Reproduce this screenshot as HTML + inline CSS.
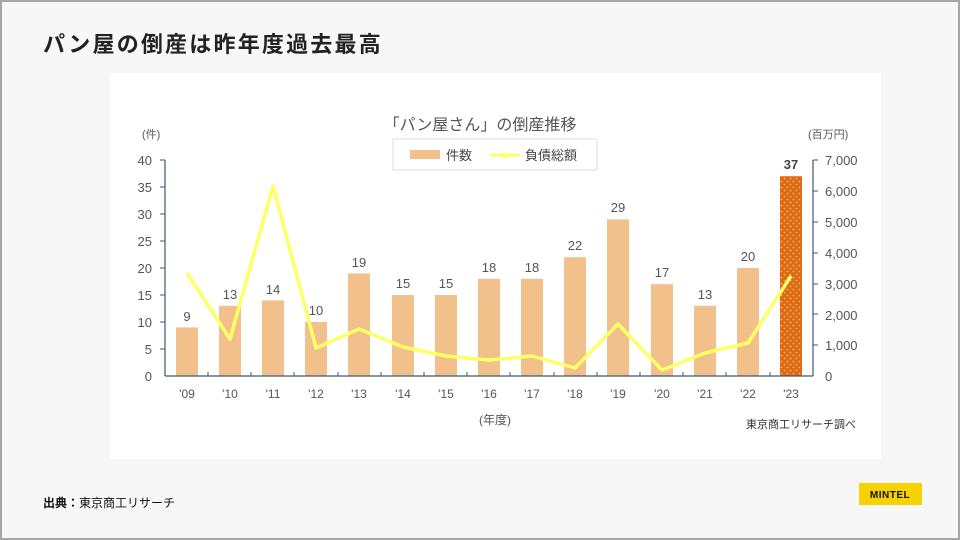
<!DOCTYPE html><html><head><meta charset="utf-8"><style>
body{margin:0;width:960px;height:540px;overflow:hidden;background:#f7f7f7;font-family:"Liberation Sans","Noto Sans CJK JP",sans-serif}
.frame{position:absolute;left:0;top:0;width:956px;height:536px;border:2px solid #a6a6a6;}
</style></head><body><div class="frame"></div>
<svg width="960" height="540" style="position:absolute;left:0;top:0" font-family="Liberation Sans, Noto Sans CJK JP, sans-serif">
<defs><pattern id="dots" width="6" height="6" patternUnits="userSpaceOnUse"><rect width="6" height="6" fill="#e06a10"/><circle cx="1.5" cy="1.5" r="0.8" fill="#f8c89a"/><circle cx="4.5" cy="4.5" r="0.8" fill="#f8c89a"/></pattern></defs>
<text x="43" y="52" font-size="22" font-weight="bold" fill="#222" letter-spacing="2.2">パン屋の倒産は昨年度過去最高</text>
<rect x="110" y="73" width="771" height="386" fill="#fff"/>
<text x="480" y="130" font-size="16" fill="#555" text-anchor="middle">「パン屋さん」の倒産推移</text>
<rect x="393" y="139" width="204" height="31" fill="#fff" stroke="#ddd"/>
<rect x="410" y="150" width="30" height="9" fill="#f2c08a"/>
<text x="446" y="160" font-size="13" fill="#444">件数</text>
<line x1="490" y1="155" x2="520" y2="155" stroke="#ffff66" stroke-width="3"/>
<path d="M502 158l3-5 3 5z" fill="#ffff66"/>
<text x="525" y="160" font-size="13" fill="#444">負債総額</text>
<text x="142" y="138" font-size="11" fill="#555">(件)</text>
<text x="808" y="138" font-size="11" fill="#555">(百万円)</text>
<g font-size="13" fill="#555" text-anchor="end">
<text x="152" y="165">40</text><text x="152" y="192">35</text><text x="152" y="219">30</text><text x="152" y="246">25</text><text x="152" y="273">20</text><text x="152" y="300">15</text><text x="152" y="327">10</text><text x="152" y="354">5</text><text x="152" y="381">0</text>
</g>
<g font-size="13" fill="#555">
<text x="825" y="165">7,000</text><text x="825" y="196">6,000</text><text x="825" y="227">5,000</text><text x="825" y="258">4,000</text><text x="825" y="289">3,000</text><text x="825" y="320">2,000</text><text x="825" y="350">1,000</text><text x="825" y="381">0</text>
</g>
<g fill="#f2c08a">
<rect x="176" y="327.4" width="22" height="48.6"/>
<rect x="219" y="305.8" width="22" height="70.2"/>
<rect x="262" y="300.4" width="22" height="75.6"/>
<rect x="305" y="322" width="22" height="54"/>
<rect x="348" y="273.4" width="22" height="102.6"/>
<rect x="392" y="295" width="22" height="81"/>
<rect x="435" y="295" width="22" height="81"/>
<rect x="478" y="278.8" width="22" height="97.2"/>
<rect x="521" y="278.8" width="22" height="97.2"/>
<rect x="564" y="257.2" width="22" height="118.8"/>
<rect x="607" y="219.4" width="22" height="156.6"/>
<rect x="651" y="284.2" width="22" height="91.8"/>
<rect x="694" y="305.8" width="22" height="70.2"/>
<rect x="737" y="268" width="22" height="108"/>
</g>
<rect x="780" y="176.2" width="22" height="199.8" fill="url(#dots)"/>
<g stroke="#3d5a70" stroke-width="1.2" fill="none">
<line x1="165" y1="160" x2="165" y2="376"/><line x1="165" y1="376" x2="813" y2="376"/><line x1="813" y1="160" x2="813" y2="376"/>
</g>
<g stroke="#3d5a70" stroke-width="1">
<path d="M160 160h5M160 187h5M160 214h5M160 241h5M160 268h5M160 295h5M160 322h5M160 349h5"/>
<path d="M813 160h5M813 191h5M813 222h5M813 253h5M813 284h5M813 314h5M813 345h5"/>
<path d="M208 376v-4M251 376v-4M294 376v-4M338 376v-4M381 376v-4M424 376v-4M467 376v-4M510 376v-4M554 376v-4M597 376v-4M640 376v-4M683 376v-4M726 376v-4M770 376v-4"/>
</g>
<polyline points="187,273 230,339 273,186 316,348 359,329 403,347 446,356 489,360 532,356 575,368 618,324 662,370 705,353 748,343 791,276" fill="none" stroke="#ffff66" stroke-width="3.5" stroke-linejoin="round"/>
<g font-size="13" fill="#555" text-anchor="middle">
<text x="187" y="321">9</text><text x="230" y="299">13</text><text x="273" y="294">14</text><text x="316" y="315">10</text><text x="359" y="267">19</text><text x="403" y="288">15</text><text x="446" y="288">15</text><text x="489" y="272">18</text><text x="532" y="272">18</text><text x="575" y="250">22</text><text x="618" y="212">29</text><text x="662" y="277">17</text><text x="705" y="299">13</text><text x="748" y="261">20</text>
<text x="791" y="169" font-weight="bold" fill="#444">37</text>
</g>
<g font-size="12" fill="#555" text-anchor="middle">
<text x="187" y="398">'09</text><text x="230" y="398">'10</text><text x="273" y="398">'11</text><text x="316" y="398">'12</text><text x="359" y="398">'13</text><text x="403" y="398">'14</text><text x="446" y="398">'15</text><text x="489" y="398">'16</text><text x="532" y="398">'17</text><text x="575" y="398">'18</text><text x="618" y="398">'19</text><text x="662" y="398">'20</text><text x="705" y="398">'21</text><text x="748" y="398">'22</text><text x="791" y="398">'23</text>
</g>
<text x="495" y="424" font-size="12" fill="#555" text-anchor="middle">(年度)</text>
<text x="856" y="428" font-size="11" fill="#333" text-anchor="end">東京商工リサーチ調べ</text>
<text x="43" y="507" font-size="12" fill="#111"><tspan font-weight="bold">出典：</tspan>東京商工リサーチ</text>
<rect x="859" y="483" width="63" height="22" fill="#f5d200"/>
<text x="890" y="498" font-size="10" font-weight="bold" fill="#111" text-anchor="middle" letter-spacing="0.5">MINTEL</text>
</svg></body></html>
